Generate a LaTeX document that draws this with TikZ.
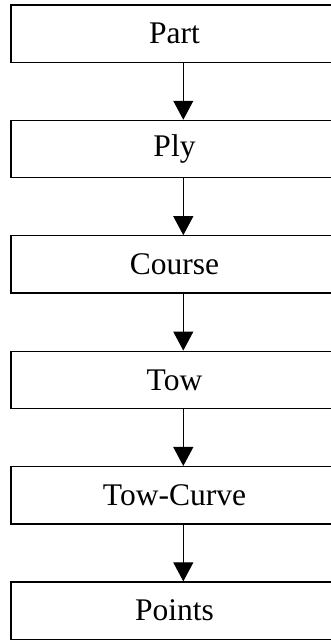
\documentclass[tikz,border=0pt]{standalone}
\usepackage{fontspec}
\setmainfont{Liberation Serif}
\usetikzlibrary{arrows.meta}
\begin{document}
\begin{tikzpicture}[x=1pt,y=-1pt,
  levelbox/.style={draw=black, line width=1.3pt, minimum width=327pt, minimum height=57.3pt,
    inner sep=0pt, anchor=center, font=\fontsize{31.5}{37}\selectfont},
  flowarrow/.style={draw=black, line width=1pt, -{Triangle[width=20pt,length=19pt]}}]
\useasboundingbox (0,0) rectangle (331,641);
\clip (0,0) rectangle (331,641);
\coordinate (ax) at (183.3,0);
\node[levelbox] (part)   at (174.5, 33.65) {Part};
\node[levelbox] (ply)    at (174.5, 149.05) {Ply};
\node[levelbox] (course) at (174.5, 264.45) {Course};
\node[levelbox] (tow)    at (174.5, 379.85) {Tow};
\node[levelbox] (curve)  at (174.5, 495.25) {Tow-Curve};
\node[levelbox] (points) at (174.5, 610.65) {Points};
\draw[flowarrow] (part.south -| ax) -- (ply.north -| ax);
\draw[flowarrow] (ply.south -| ax) -- (course.north -| ax);
\draw[flowarrow] (course.south -| ax) -- (tow.north -| ax);
\draw[flowarrow] (tow.south -| ax) -- (curve.north -| ax);
\draw[flowarrow] (curve.south -| ax) -- (points.north -| ax);
\end{tikzpicture}
\end{document}
